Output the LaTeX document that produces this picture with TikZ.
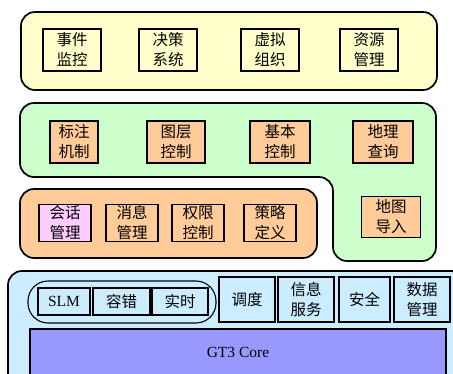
\documentclass[tikz,border=0pt]{standalone}
\usepackage{fontspec}
\setmainfont{Liberation Serif}
\newfontfamily\cjk{Noto Sans CJK SC}
\definecolor{gtyellow}{RGB}{255,255,204}
\definecolor{gtgreen}{RGB}{204,255,204}
\definecolor{gtorange}{RGB}{255,204,153}
\definecolor{gtpink}{RGB}{255,204,255}
\definecolor{gtblue}{RGB}{204,236,255}
\definecolor{gtcore}{RGB}{153,153,255}

\begin{document}
\begin{tikzpicture}[
    x=1pt, y=-1pt,
    font=\cjk\fontsize{15.5}{20}\selectfont,
    % Layers: rounded frames holding the modules of each level.
    layer/.style={
        draw=black,
        line width=1.7pt,
        rounded corners=14pt
    },
    module/.style 2 args={
        draw=black,
        line width=1.1pt,
        align=center,
        inner sep=0pt,
        minimum width=#1pt,
        minimum height=#2pt
    },
    appmod/.style={module={58}{42}},
    gismod/.style={module={#1}{42}, fill=gtorange},
    sesmod/.style={module={52}{37}},
    gridmod/.style={module={#1}{45}}
]
    \useasboundingbox (0,0) rectangle (453,373);
    \clip (0,0) rectangle (453,373);

    % Application layer
    \draw[layer, fill=gtyellow] (21,12) rectangle (437,90);
    \node[appmod] (event)    at (72,50)  {事件\\监控};
    \node[appmod] (decision) at (168,50) {决策\\系统};
    \node[appmod] (virtual)  at (270,50) {虚拟\\组织};
    \node[appmod] (resource) at (369,50) {资源\\管理};

    % GIS layer, L-shaped
    \draw[layer, fill=gtgreen] (20,103) -- (436,103) -- (436,261)
        -- (333,261) -- (333,177) -- (20,177) -- cycle;
    \node[gismod=48] (label)  at (74,142)  {标注\\机制};
    \node[gismod=58] (layers) at (176,142) {图层\\控制};
    \node[gismod=60] (basic)  at (280,142) {基本\\控制};
    \node[gismod=60] (query)  at (383,142) {地理\\查询};
    \node[module={59}{41}, fill=gtorange] (import) at (391,217) {地图\\导入};

    % Session layer
    \draw[layer, fill=gtorange] (20,189) rectangle (317,258);
    \node[sesmod, fill=gtpink] (session) at (65,223)  {会话\\管理};
    \node[sesmod] (message) at (132,223) {消息\\管理};
    \node[sesmod] (access)  at (198,223) {权限\\控制};
    \node[sesmod] (policy)  at (270,223) {策略\\定义};

    % Grid layer
    \draw[layer, fill=gtblue] (8,271) rectangle (470,395);
    \draw[line width=1.1pt, rounded corners=20pt] (28,281) rectangle (216,323);
    \node[module={52}{27}, font=\fontsize{15.5}{20}\selectfont] (slm) at (64,301.5) {SLM};
    \node[module={57}{27}] (fault) at (121.5,301.5) {容错};
    \node[module={56}{27}] (rt)    at (180,301.5)   {实时};
    \node[gridmod=56] (sched)    at (247,299.5) {调度};
    \node[gridmod=56] (info)     at (306,299.5) {信息\\服务};
    \node[gridmod=51] (security) at (364.5,299.5) {安全};
    \node[gridmod=56] (data)     at (422,299.5) {数据\\管理};
    \node[draw=black, line width=1.1pt, fill=gtcore, inner sep=0pt,
        minimum width=416pt, minimum height=46pt,
        font=\fontsize{15.5}{20}\selectfont] (core) at (238,352) {GT3 Core};
\end{tikzpicture}
\end{document}
